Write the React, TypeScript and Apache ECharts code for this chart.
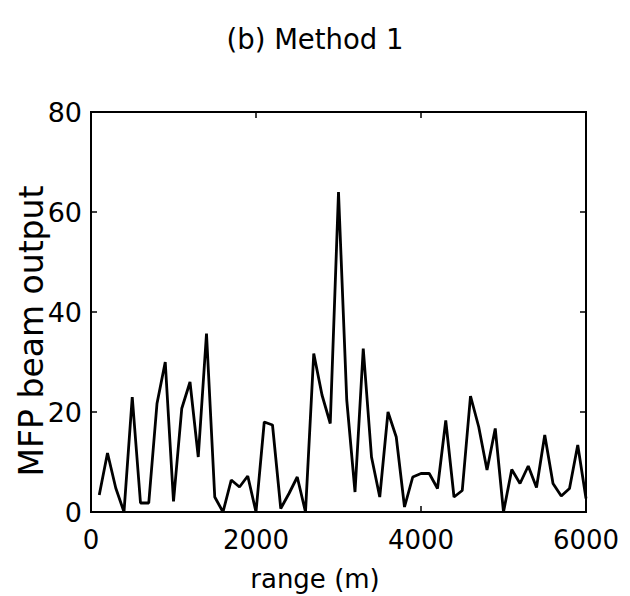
import React, { useEffect, useRef } from "react";
import * as echarts from "echarts";

const ranges = [
  100, 200, 300, 400, 500, 600, 700, 800, 900, 1000,
  1100, 1200, 1300, 1400, 1500, 1600, 1700, 1800, 1900, 2000,
  2100, 2200, 2300, 2400, 2500, 2600, 2700, 2800, 2900, 3000,
  3100, 3200, 3300, 3400, 3500, 3600, 3700, 3800, 3900, 4000,
  4100, 4200, 4300, 4400, 4500, 4600, 4700, 4800, 4900, 5000,
  5100, 5200, 5300, 5400, 5500, 5600, 5700, 5800, 5900, 6000,
];
const beamOutput = [
  3.4, 11.8, 4.8, 0, 23, 1.8, 1.8, 21.7, 30, 2.1,
  20.7, 26, 11, 35.7, 3, 0, 6.4, 5, 7.2, 0,
  18, 17.4, 0.7, 3.7, 7, 0, 31.7, 23.4, 17.7, 64,
  22.4, 4, 32.7, 11, 3, 20, 15, 1, 7, 7.7,
  7.7, 4.7, 18.3, 3, 4.3, 23.2, 17, 8.4, 16.7, 0,
  8.5, 5.7, 9.2, 4.9, 15.4, 5.7, 3.2, 4.7, 13.4, 2.7,
];
const titleText = "(b) Method 1";
const xLabel = "range (m)";
const yLabel = "MFP beam output";

const FONT = "'DejaVu Sans', 'Liberation Sans', Arial, sans-serif";

export default function App() {
  const ref = useRef<HTMLDivElement>(null);
  useEffect(() => {
    if (!ref.current) return;
    const chart = echarts.init(ref.current, undefined, { renderer: "svg" });
    const axisLine = { show: true, onZero: false, lineStyle: { color: "#000", width: 2 } };
    const tick = { show: true, inside: true, length: 6, lineStyle: { color: "#000", width: 1.5 } };
    chart.setOption({
      animation: false,
      backgroundColor: "#fff",
      grid: {
        left: 91,
        right: 44,
        top: 112,
        bottom: 84,
        show: true,
        borderColor: "#000",
        borderWidth: 2,
        backgroundColor: "transparent",
      },
      xAxis: [
        {
          type: "value",
          min: 0,
          max: 6000,
          interval: 2000,
          position: "bottom",
          axisLine,
          axisTick: tick,
          splitLine: { show: false },
          axisLabel: {
            color: "#000",
            fontSize: 26,
            fontFamily: FONT,
            margin: 15,
            formatter: (v: number) => String(v),
          },
        },
        {
          type: "value",
          min: 0,
          max: 6000,
          interval: 2000,
          position: "top",
          axisLine,
          axisTick: tick,
          splitLine: { show: false },
          axisLabel: { show: false },
        },
      ],
      yAxis: [
        {
          type: "value",
          min: 0,
          max: 80,
          interval: 20,
          position: "left",
          axisLine,
          axisTick: tick,
          splitLine: { show: false },
          axisLabel: {
            color: "#000",
            fontSize: 27,
            fontFamily: FONT,
            margin: 9,
            formatter: (v: number) => String(v),
          },
        },
        {
          type: "value",
          min: 0,
          max: 80,
          interval: 20,
          position: "right",
          axisLine,
          axisTick: tick,
          splitLine: { show: false },
          axisLabel: { show: false },
        },
      ],
      series: [
        {
          type: "line",
          xAxisIndex: 0,
          yAxisIndex: 0,
          data: ranges.map((r, i) => [r, beamOutput[i]]),
          showSymbol: false,
          symbol: "none",
          lineStyle: { color: "#000", width: 2.8 },
        },
      ],
      graphic: [
        {
          type: "text",
          x: 315,
          y: 39,
          style: {
            text: titleText,
            fill: "#000",
            font: `27.5px ${FONT}`,
            align: "center",
            verticalAlign: "middle",
          },
        },
        {
          type: "text",
          x: 315,
          y: 579,
          style: {
            text: xLabel,
            fill: "#000",
            font: `26px ${FONT}`,
            align: "center",
            verticalAlign: "middle",
          },
        },
        {
          type: "text",
          x: 31,
          y: 331,
          rotation: Math.PI / 2,
          style: {
            text: yLabel,
            fill: "#000",
            font: `33px ${FONT}`,
            align: "center",
            verticalAlign: "middle",
          },
        },
      ],
    });
    return () => chart.dispose();
  }, []);
  return (
    <div
      ref={ref}
      style={{ position: "fixed", left: 0, top: 0, width: 630, height: 596, background: "#fff" }}
    />
  );
}
